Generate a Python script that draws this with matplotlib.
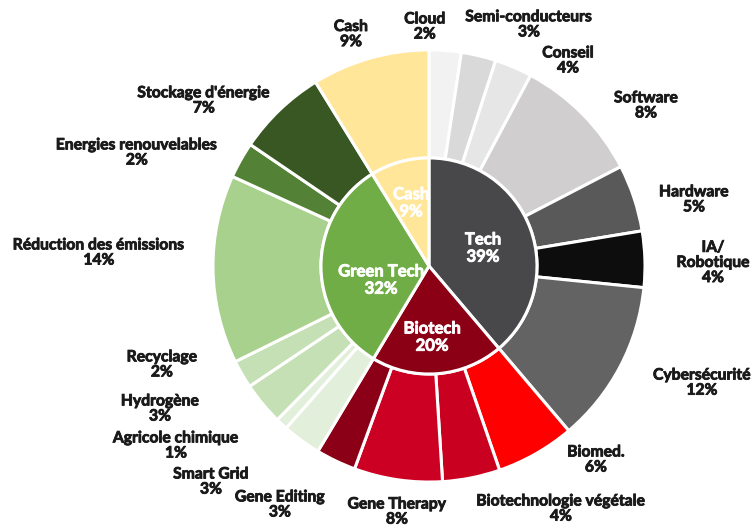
import matplotlib.pyplot as plt
import matplotlib.patheffects as pe

plt.rcParams['font.family'] = ['Lato', 'DejaVu Sans']

# Inner ring (sectors)
sectors = ["Tech", "Biotech", "Green Tech", "Cash"]
sector_pct = ["39%", "20%", "32%", "9%"]
sector_colors = ["#48484a", "#8b0015", "#70ad47", "#ffe699"]

# Outer ring, clockwise from the top, grouped by sector
tech_names = ["Cloud", "Semi-conducteurs", "Conseil", "Software", "Hardware",
              "IA/\nRobotique", "Cybersécurité"]
tech_vals = [2.4, 2.6, 2.8, 9.6, 5.0, 4.2, 12.2]
tech_pct = ["2%", "3%", "4%", "8%", "5%", "4%", "12%"]

bio_names = ["Biomed.", "Biotechnologie végétale", "Gene Therapy", "Gene Editing"]
bio_vals = [5.9, 4.3, 6.6, 3.0]
bio_pct = ["6%", "4%", "8%", "3%"]

green_names = ["Smart Grid", "Agricole chimique", "Hydrogène", "Recyclage",
               "Réduction des émissions", "Energies renouvelables", "Stockage d'énergie"]
green_vals = [2.9, 0.9, 3.2, 2.1, 14.1, 2.7, 6.7]
green_pct = ["3%", "1%", "3%", "2%", "14%", "2%", "7%"]

cash_names = ["Cash"]
cash_vals = [8.8]
cash_pct = ["9%"]

outer_colors = ["#f2f2f2", "#d9d9d9", "#e6e6e6", "#d0cece", "#595959", "#0d0d0d", "#636363",
                "#ff0000", "#c9001f", "#cc0022", "#8b0016",
                "#e2efda", "#e2efda", "#c5e0b4", "#c5e0b4", "#a9d18e", "#538135", "#385723",
                "#ffe699"]

outer_names = tech_names + bio_names + green_names + cash_names
outer_vals = tech_vals + bio_vals + green_vals + cash_vals
outer_pct = tech_pct + bio_pct + green_pct + cash_pct
sector_vals = [sum(tech_vals), sum(bio_vals), sum(green_vals), sum(cash_vals)]

# label anchors (hand placed, like the original)
outer_label_pos = [(-0.019, 1.106), (0.463, 1.116), (0.644, 0.949), (1.005, 0.741),
                   (1.227, 0.306), (1.315, 0.014), (1.264, -0.542),
                   (0.773, -0.898), (0.611, -1.125), (-0.148, -1.139), (-0.690, -1.106),
                   (-1.009, -1.000), (-1.171, -0.833), (-1.245, -0.662), (-1.236, -0.458),
                   (-1.528, 0.060), (-1.352, 0.523), (-1.042, 0.764),
                   (-0.361, 1.071)]
inner_label_pos = [(0.250, 0.083), (0.014, -0.329), (-0.222, -0.065), (-0.083, 0.292)]

fig = plt.figure(figsize=(7.53, 5.27), dpi=100)
ax = fig.add_axes([0, 0, 1, 1])

wp = dict(edgecolor="white", linewidth=2.2)
ax.pie(outer_vals, radius=1.0, colors=outer_colors, startangle=90, counterclock=False,
       wedgeprops=dict(width=0.5, **wp))
ax.pie(sector_vals, radius=0.5, colors=sector_colors, startangle=90, counterclock=False,
       wedgeprops=wp)

# thicken Lato bold a bit to get closer to the heavy original font
dark_fx = [pe.withStroke(linewidth=0.6, foreground="#1a1a1a")]
light_fx = [pe.withStroke(linewidth=0.6, foreground="white")]

for name, pct, (x, y) in zip(outer_names, outer_pct, outer_label_pos):
    ax.text(x, y, f"{name}\n{pct}", ha="center", va="center", fontsize=11.3,
            fontweight="bold", color="#1a1a1a", linespacing=1.1, path_effects=dark_fx)

for name, pct, (x, y) in zip(sectors, sector_pct, inner_label_pos):
    ax.text(x, y, f"{name}\n{pct}", ha="center", va="center", fontsize=12,
            fontweight="bold", color="white", linespacing=1.1, path_effects=light_fx)

ax.set_aspect("auto")
ax.set_xlim(-1.986, 1.5)
ax.set_ylim(-1.208, 1.231)
ax.axis("off")

fig.savefig("out.png", dpi=100)
